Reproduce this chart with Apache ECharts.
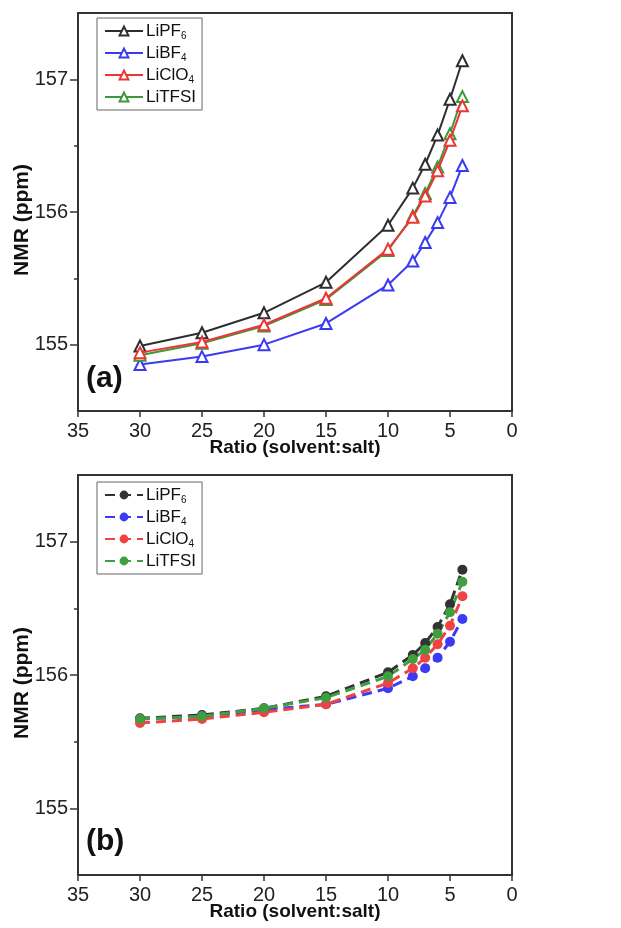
<!DOCTYPE html>
<html>
<head>
<meta charset="utf-8">
<script src="https://cdn.jsdelivr.net/npm/echarts@6/dist/echarts.min.js"></script>
<style>
html,body{margin:0;padding:0;background:#fff;}
#chart{width:621px;height:928px;}
</style>
</head>
<body>
<div id="chart"></div>
<script>
// ---- data ----
const ratios = [30, 25, 20, 15, 10, 8, 7, 6, 5, 4];
const salts = ['LiPF6', 'LiBF4', 'LiClO4', 'LiTFSI'];
const saltLabels = ['LiPF{s|6}', 'LiBF{s|4}', 'LiClO{s|4}', 'LiTFSI'];
// panel (a)
const a_LiPF6  = [154.99, 155.09, 155.24, 155.47, 155.90, 156.18, 156.36, 156.58, 156.85, 157.14];
const a_LiBF4  = [154.85, 154.91, 155.00, 155.16, 155.45, 155.63, 155.77, 155.92, 156.11, 156.35];
const a_LiClO4 = [154.94, 155.02, 155.15, 155.35, 155.72, 155.96, 156.12, 156.31, 156.54, 156.80];
const a_LiTFSI = [154.92, 155.01, 155.14, 155.34, 155.71, 155.97, 156.14, 156.34, 156.59, 156.87];
// panel (b)
const b_LiPF6  = [155.675, 155.70, 155.75, 155.84, 156.02, 156.15, 156.24, 156.36, 156.53, 156.79];
const b_LiBF4  = [155.67, 155.69, 155.74, 155.78, 155.90, 155.99, 156.05, 156.13, 156.25, 156.42];
const b_LiClO4 = [155.64, 155.67, 155.72, 155.78, 155.94, 156.05, 156.13, 156.23, 156.37, 156.59];
const b_LiTFSI = [155.67, 155.69, 155.75, 155.83, 155.99, 156.12, 156.19, 156.31, 156.47, 156.70];
const xTicks = [35, 30, 25, 20, 15, 10, 5, 0];
const yMajor = [155, 156, 157];
const yMinor = [155.5, 156.5];

const colorsA = ['#2e2e2e', '#3a3af2', '#ee3434', '#3a9a3a'];
const colorsB = ['#333333', '#3b3bf5', '#f04242', '#3f9f3f'];
const panelA = [a_LiPF6, a_LiBF4, a_LiClO4, a_LiTFSI];
const panelB = [b_LiPF6, b_LiBF4, b_LiClO4, b_LiTFSI];

const FONT = 'Liberation Sans, Arial, sans-serif';
const axisColor = '#333';

function pairs(vals){ return ratios.map((r,i)=>[r, vals[i]]); }

const grids = [
  {left: 78, right: 109, top: 13, height: 398},
  {left: 78, right: 109, top: 475, height: 400}
].map(g => Object.assign(g, {show: true, borderColor: axisColor, borderWidth: 2, backgroundColor: 'transparent',
                              containLabel: false, outerBoundsMode: 'none'}));

const xAxes = [0,1].map(i => ({
  type: 'value', gridIndex: i, position: 'bottom', inverse: true, min: 0, max: 35, interval: 5,
  name: 'Ratio (solvent:salt)', nameLocation: 'middle', nameGap: 27, nameMoveOverlap: false,
  nameTextStyle: {fontFamily: FONT, fontWeight: 'bold', fontSize: 19, color: '#111'},
  axisLine: {show: true, onZero: false, lineStyle: {color: axisColor, width: 2}},
  axisTick: {show: true, inside: false, length: 6, lineStyle: {color: axisColor, width: 1.5}},
  axisLabel: {show: true, margin: 10, fontFamily: FONT, fontSize: 20, color: '#222',
              formatter: v => xTicks.includes(v) ? String(v) : ''},
  splitLine: {show: false}
}));

const yAxes = [];
[0,1].forEach(i => {
  yAxes.push({
    type: 'value', gridIndex: i, position: 'left', min: 154.5, max: 157.5, interval: 0.5,
    name: 'NMR (ppm)', nameLocation: 'middle', nameGap: 45, nameMoveOverlap: false,
    nameTextStyle: {fontFamily: FONT, fontWeight: 'bold', fontSize: 21, color: '#111', padding: [0, 16, 0, 0]},
    axisLine: {show: true, onZero: false, lineStyle: {color: axisColor, width: 2}},
    axisTick: {show: true, inside: false, length: 8, customValues: yMajor, lineStyle: {color: axisColor, width: 1.5}},
    axisLabel: {show: true, margin: 10, fontFamily: FONT, fontSize: 20, color: '#222', customValues: yMajor,
                formatter: v => String(Math.round(v))},
    splitLine: {show: false}
  });
  yAxes.push({
    type: 'value', gridIndex: i, position: 'left', offset: 0, min: 154.5, max: 157.5, interval: 0.5,
    axisLine: {show: false, onZero: false},
    axisTick: {show: true, inside: false, length: 4, customValues: yMinor, lineStyle: {color: axisColor, width: 1.5}},
    axisLabel: {show: false},
    splitLine: {show: false}
  });
});

const series = [];
salts.forEach((s, k) => {
  series.push({
    type: 'line', name: s, xAxisIndex: 0, yAxisIndex: 0, data: pairs(panelA[k]),
    symbol: 'emptyTriangle', symbolSize: 11, z: k === 2 ? 4 : 3,
    lineStyle: {color: colorsA[k], width: 2},
    itemStyle: {color: colorsA[k], borderColor: colorsA[k], borderWidth: 1.5},
    emphasis: {disabled: true}, animation: false
  });
});
salts.forEach((s, k) => {
  series.push({
    type: 'line', name: 'b:' + s, xAxisIndex: 1, yAxisIndex: 2, data: pairs(panelB[k]),
    symbol: 'circle', symbolSize: 10, z: 3,
    lineStyle: {color: colorsB[k], width: 3, type: [10, 6]},
    itemStyle: {color: colorsB[k]},
    emphasis: {disabled: true}, animation: false
  });
});

const richText = {s: {fontFamily: FONT, fontSize: 10, lineHeight: 20, verticalAlign: 'bottom', color: '#111'}};
function legendCfg(prefix, top){
  return {
    show: true, left: 97, top: top, orient: 'vertical',
    data: salts.map(s => prefix + s),
    itemWidth: 38, itemHeight: 11, itemGap: 2,
    padding: [3, 6, 3, 7],
    borderColor: '#666', borderWidth: 1, backgroundColor: '#fff',
    selectedMode: false,
    textStyle: {fontFamily: FONT, fontSize: 17, lineHeight: 20, color: '#111', padding: [0,0,0,-2], rich: richText},
    formatter: name => saltLabels[salts.indexOf(name.replace('b:', ''))]
  };
}

const option = {
  animation: false,
  backgroundColor: '#fff',
  grid: grids,
  xAxis: xAxes,
  yAxis: yAxes,
  legend: [legendCfg('', 18), legendCfg('b:', 482)],
  series: series,
  graphic: [
    {type: 'text', left: 86, top: 364, style: {text: '(a)', fontFamily: FONT, fontWeight: 'bold', fontSize: 30, fill: '#111'}},
    {type: 'text', left: 86, top: 827, style: {text: '(b)', fontFamily: FONT, fontWeight: 'bold', fontSize: 30, fill: '#111'}}
  ]
};

const chart = echarts.init(document.getElementById('chart'), null, {renderer: 'canvas'});
chart.setOption(option);
</script>
</body>
</html>
